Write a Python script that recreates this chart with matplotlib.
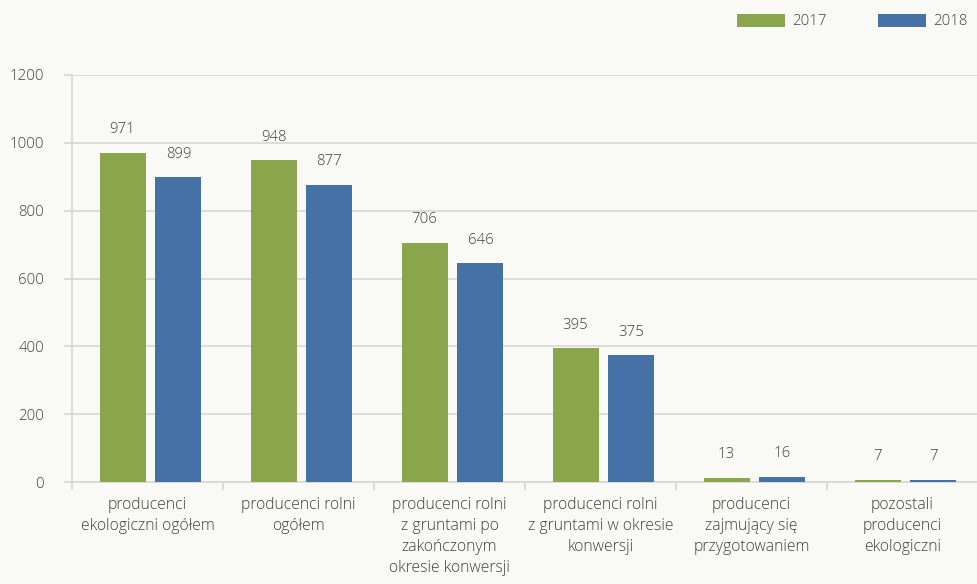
import numpy as np
import matplotlib.pyplot as plt

categories = [
    "producenci\nekologiczni ogółem",
    "producenci rolni\nogółem",
    "producenci rolni\nz gruntami po\nzakończonym\nokresie konwersji",
    "producenci rolni\nz gruntami w okresie\nkonwersji",
    "producenci\nzajmujący się\nprzygotowaniem",
    "pozostali\nproducenci\nekologiczni",
]
values_2017 = [971, 948, 706, 395, 13, 7]
values_2018 = [899, 877, 646, 375, 16, 7]
years = ["2017", "2018"]
yticks = [0, 200, 400, 600, 800, 1000, 1200]

green = "#8aa64c"
blue = "#4571a7"
grid = "#d9d9d9"
text = "#404040"
bg = "#f9faf6"

plt.rcParams["font.family"] = ["Open Sans", "DejaVu Sans"]
plt.rcParams["font.weight"] = "light"

fig = plt.figure(figsize=(9.78, 5.84), dpi=100, facecolor=bg)
ax = fig.add_axes([72 / 978, 1 - 482 / 584, 1 - 72 / 978, 407 / 584])
ax.set_facecolor(bg)

x = np.arange(len(categories))
w = 0.305
b1 = ax.bar(x - 0.165, values_2017, w, color=green, label=years[0], zorder=3)
b2 = ax.bar(x + 0.205, values_2018, w, color=blue, label=years[1], zorder=3)

for bars in (b1, b2):
    for r in bars:
        ax.annotate(str(int(r.get_height())), (r.get_x() + r.get_width() / 2, r.get_height()),
                    xytext=(0, 11), textcoords="offset points", ha="center", va="bottom",
                    fontsize=10.8, color=text)

ax.set_xlim(-0.5, len(categories) - 0.5)
ax.set_ylim(0, 1200)
ax.set_yticks(yticks)
ax.tick_params(axis="y", length=6, color=grid, width=1.3, labelsize=10.8,
               labelcolor=text, pad=14)
ax.yaxis.grid(True, color=grid, linewidth=1.3, zorder=0)

ax.set_xticks(x)
ax.set_xticklabels(categories, fontsize=11.3, color=text, linespacing=1.4, va="top")
ax.tick_params(axis="x", length=0, pad=11)
ax.set_xticks(np.arange(len(categories) + 1) - 0.5, minor=True)
ax.tick_params(axis="x", which="minor", length=6, color=grid, width=1.3)

for s in ("top", "right"):
    ax.spines[s].set_visible(False)
for s in ("left", "bottom"):
    ax.spines[s].set_color(grid)
    ax.spines[s].set_linewidth(1.3)

fig.legend(handles=[b1, b2], labels=years, loc="upper right", bbox_to_anchor=(1.003, 1.0),
           ncol=2, frameon=False, fontsize=10.8, labelcolor=text, handlelength=3.2,
           handleheight=1.0, columnspacing=3.4, handletextpad=0.5)

fig.savefig("out.png", dpi=100, facecolor=bg)
